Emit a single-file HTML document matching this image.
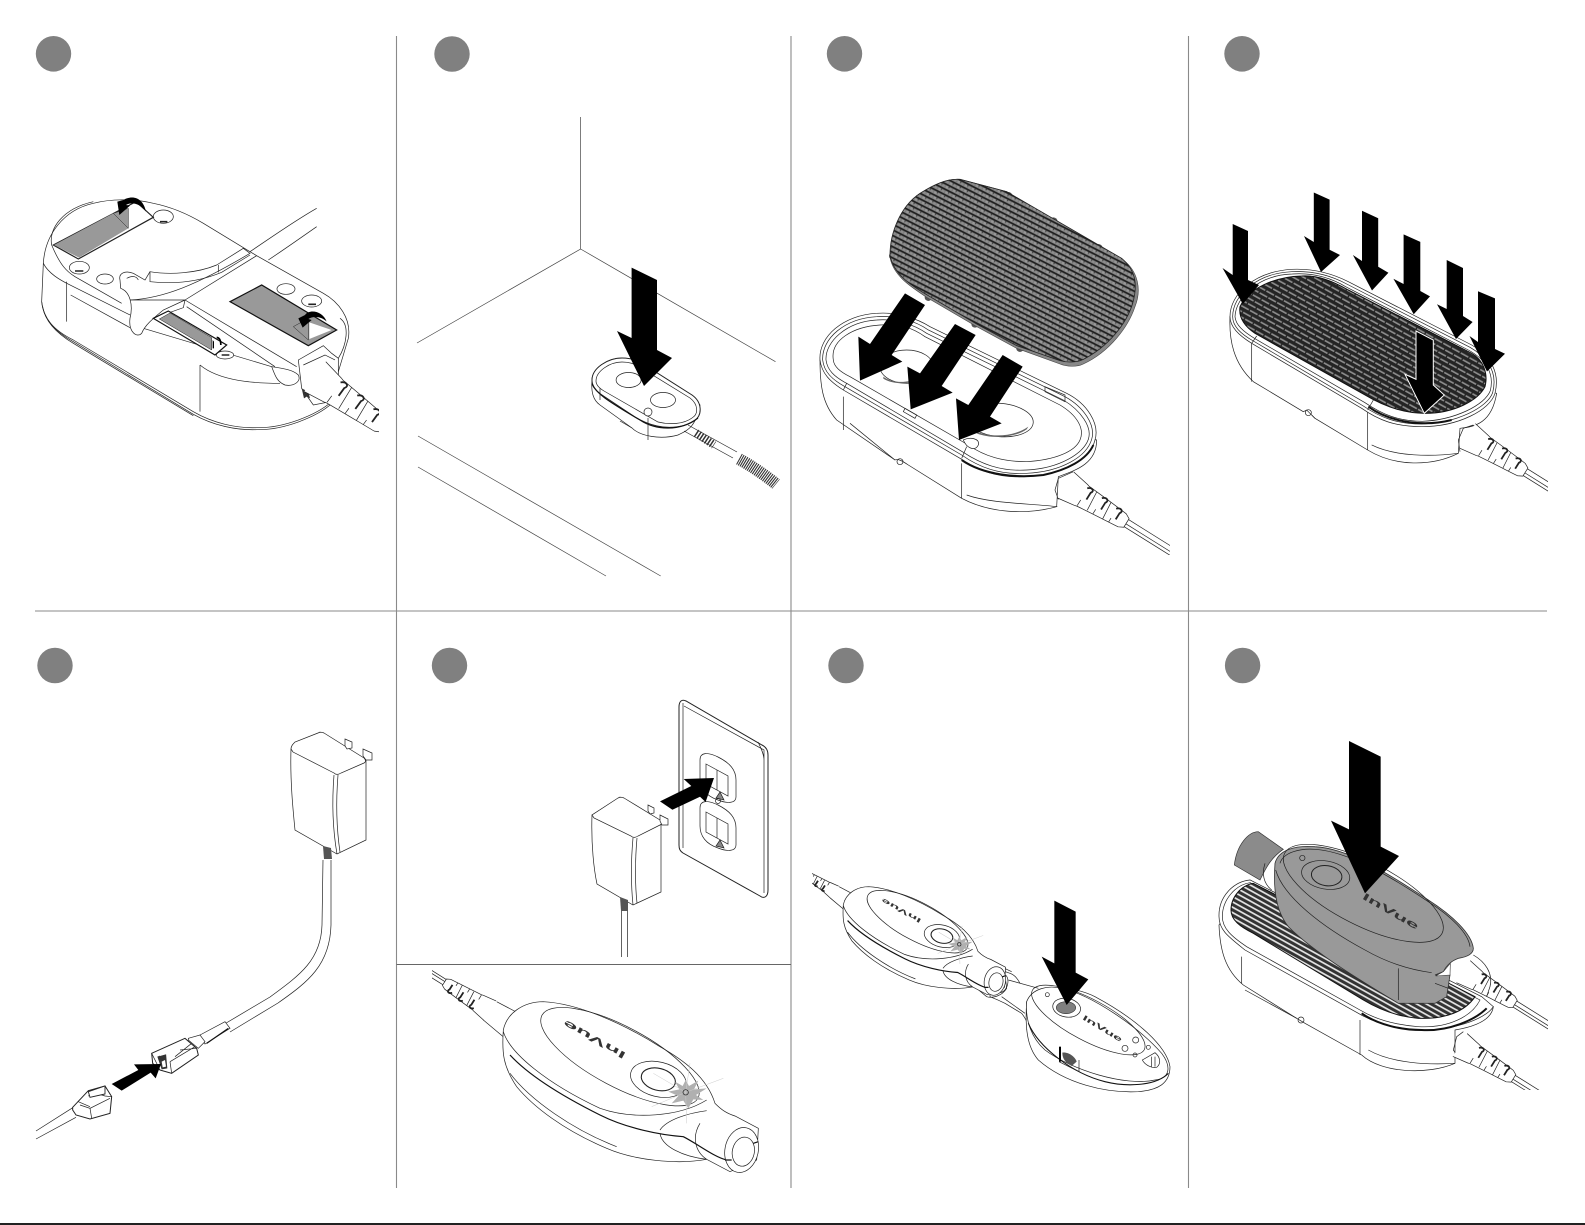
<!DOCTYPE html>
<html><head><meta charset="utf-8"><title>InVue installation steps</title>
<style>
html,body{margin:0;padding:0;background:#fff}
svg{display:block}
svg *{vector-effect:non-scaling-stroke}
.l{fill:none;stroke:#222;stroke-width:.7}
.w{fill:#fff;stroke:#222;stroke-width:.7}
.k{fill:#000;stroke:none}
.d{fill:none;stroke:#111;stroke-width:1.2}
text{font-family:"Liberation Sans",sans-serif;font-weight:bold;fill:#333}
</style></head><body>
<svg xmlns="http://www.w3.org/2000/svg" width="1585" height="1225" viewBox="0 0 1585 1225">
<defs>
<pattern id="carbon" width="24" height="30" patternUnits="userSpaceOnUse" patternTransform="rotate(27)">
<rect width="24" height="30" fill="#7c7c7c"/>
<rect y="0" width="24" height="5" fill="#1f1f1f"/><rect x="2" y="6" width="8" height="7" fill="#999"/><rect x="14" y="7" width="8" height="6" fill="#8e8e8e"/><rect x="10" y="5" width="3" height="4" fill="#333"/>
<rect y="15" width="24" height="5" fill="#1f1f1f"/><rect x="8" y="21" width="8" height="7" fill="#999"/><rect x="20" y="22" width="4" height="6" fill="#8e8e8e"/><rect x="0" y="22" width="4" height="6" fill="#8e8e8e"/><rect x="16" y="20" width="3" height="4" fill="#333"/>
</pattern>
<pattern id="stripe" width="30" height="30" patternUnits="userSpaceOnUse" patternTransform="rotate(29)">
<rect width="30" height="30" fill="#242424"/><rect y="4" width="26" height="5" fill="#8c8c8c"/><rect x="15" y="19" width="15" height="5" fill="#8c8c8c"/><rect x="0" y="19" width="11" height="5" fill="#8c8c8c"/>
</pattern>
<pattern id="stripe8" width="40" height="14" patternUnits="userSpaceOnUse" patternTransform="rotate(29)">
<rect width="40" height="14" fill="#333"/><rect y="3" width="40" height="5" fill="#e8e8e8"/>
</pattern>
<g id="rel">
<path class="w" d="M0,-46 L55,-36 L60,-34 L200,-23 L215,-15 L215,15 L200,23 L60,36 L55,38 L0,46 Z" style="stroke:none"/>
<path class="l" d="M0,-46 L55,-36 L62,-34 C120,-30 170,-26 200,-23 L215,-15 L215,15 L200,23 C170,26 120,30 62,36 L55,38 L0,46"/>
<path d="M60,-26 C72,-38 84,-30 76,-20 L76,4 M113,-24 C125,-36 137,-28 129,-18 L129,6 M166,-20 C178,-32 190,-24 182,-14 L182,8" fill="none" stroke="#222" stroke-width="1.8"/>
<path class="l" d="M62,14 L62,34 M115,14 L115,30 M168,12 L168,26 M90,-32 L95,30 M143,-28 L148,28"/>
<path class="l" d="M215,-12 L420,-12 M215,13 L420,13 M215,3 L420,3"/>
</g>
<g id="dev">
<use href="#rel" transform="translate(210,152) rotate(212) scale(.75)"/>
<path class="l" d="M230,125 L300,162 M190,180 L252,232"/>
<path class="w" d="M250,210 C260,160 310,125 370,125 C470,130 600,185 720,260 C790,300 860,350 885,430 C905,450 920,460 945,468 L1015,505 L1010,600 L930,635 L860,598 C770,615 640,600 560,565 C430,510 340,440 290,380 C250,320 245,280 250,210 Z"/>
<ellipse class="l" cx="600" cy="290" rx="265" ry="90" transform="rotate(28 600 290)"/>
<path class="d" d="M270,285 C330,350 430,410 540,465 C620,505 720,525 790,530 C830,550 880,590 920,600"/>
<path class="l" d="M720,510 C740,480 800,460 860,452 M720,520 C725,560 790,590 860,598 M840,490 C815,530 825,575 860,598 M270,340 C330,420 460,510 590,560"/>
<path class="l" d="M250,215 C270,280 380,370 540,445 C640,480 780,470 860,420"/>
<ellipse class="w" cx="965" cy="570" rx="50" ry="68" transform="rotate(12 965 570)"/>
<ellipse class="l" cx="970" cy="575" rx="33" ry="44" transform="rotate(12 970 575)"/>
<path class="d" d="M915,600 L935,600 M1000,550 L1015,545"/>
<ellipse class="l" cx="715" cy="358" rx="85" ry="52" transform="rotate(14 715 358)"/>
<ellipse class="w" cx="715" cy="358" rx="52" ry="33" transform="rotate(14 715 358)" style="stroke-width:1.1"/>
<path fill="#b0b0b0" d="M797,360 L807,378 L835,362 L822,388 L860,385 L828,405 L850,420 L820,418 L805,445 L790,422 L755,430 L775,408 L745,395 L778,388 L765,365 L788,378 Z"/>
<path stroke="#ccc" stroke-width=".5" fill="none" d="M797,397 L700,340 M797,397 L910,355 M797,397 L810,310 M797,397 L695,440 M797,397 L800,490"/>
<circle class="l" cx="797" cy="397" r="8"/>
<text x="620" y="280" font-size="30" transform="rotate(209 620 280)" textLength="210" lengthAdjust="spacingAndGlyphs">InVue</text>
</g>
<clipPath id="cl1"><rect x="30" y="180" width="349" height="262"/></clipPath>
<clipPath id="cl3"><rect x="810" y="170" width="360" height="385"/></clipPath>
<clipPath id="cl4"><rect x="1215" y="260" width="333" height="240"/></clipPath>
<clipPath id="cl8"><rect x="1215" y="730" width="333" height="360"/></clipPath>
<clipPath id="cl7"><rect x="812" y="860" width="375" height="240"/></clipPath>
<clipPath id="cl6"><rect x="432" y="965" width="340" height="215"/></clipPath>
</defs>
<rect width="1585" height="1225" fill="#fff"/>

<!-- dividers -->
<g stroke="#8a8a8a" stroke-width="1.1" fill="none">
<path d="M396.5,36 V1188 M791,36 V1188 M1188.5,36 V1188 M35,611 H1547"/>
</g>
<path d="M396.5,964.5 H791" stroke="#666" stroke-width=".9"/>
<rect y="1223" width="1585" height="2" fill="#222"/>

<!-- step circles -->
<g fill="#808080">
<ellipse cx="53.5" cy="53.8" rx="17.7" ry="17.8"/><ellipse cx="452" cy="54" rx="17.7" ry="17.8"/>
<ellipse cx="844.5" cy="53.8" rx="17.7" ry="17.8"/><ellipse cx="1242" cy="53.8" rx="17.7" ry="17.8"/>
<ellipse cx="55" cy="665.5" rx="17.7" ry="17.8"/><ellipse cx="449.5" cy="665.5" rx="17.7" ry="17.8"/>
<ellipse cx="846" cy="665.5" rx="17.7" ry="17.8"/><ellipse cx="1242.6" cy="665.5" rx="17.7" ry="17.8"/>
</g>

<!-- PANEL 1 -->
<g clip-path="url(#cl1)"><g transform="translate(30,185) scale(.33333)">
<path class="l" d="M660,200 C720,160 790,110 860,70 M715,225 C760,195 810,160 860,125"/>
<path class="w" d="M40,235 C45,150 100,75 190,55 C240,42 310,40 370,55 C420,65 470,85 520,115 L660,200 L680,212 L880,325 C925,350 965,400 955,460 L925,560 L905,650 C860,690 760,730 680,728 C620,730 550,715 490,680 L130,465 C70,435 40,400 35,350 Z"/>
<path class="l" d="M35,350 C40,400 75,440 130,470 L490,688 C550,722 620,736 680,734 C760,736 860,696 905,656"/>
<path class="l" d="M38,365 C45,410 80,445 130,475 L490,692"/>
<path class="l" d="M65,180 C55,130 100,70 190,50 M40,235 C55,265 90,285 120,300 L300,390 M122,330 L300,428 M340,430 L725,545 M110,290 V410 M510,540 V680 M510,540 C570,590 680,595 750,595 M930,400 C960,420 950,480 925,520"/>
<path class="l" d="M65,180 C90,240 110,260 135,275 L275,355"/>
<path class="w" d="M300,345 C400,340 500,300 660,205 L640,190 L560,240 C500,265 420,270 360,260 L345,285 L310,265 C285,255 265,265 270,285 L272,310 C300,320 310,360 300,400 C295,440 320,460 335,445 C345,420 370,400 400,375 L465,345 Z"/>
<path class="l" d="M360,260 V290 C450,300 520,285 575,262 L660,210 M565,240 V262 M290,280 C310,270 320,275 325,285"/>
<path class="l" d="M465,345 L680,212 M465,345 L800,545 M470,365 L735,545 M465,345 L460,368 L370,400"/>
<path class="w" d="M725,545 C760,550 790,555 805,570 C815,590 790,605 765,600 C740,590 735,570 725,545 Z"/>
<!-- holes -->
<ellipse class="w" cx="400" cy="95" rx="30" ry="20"/><ellipse class="w" cx="148" cy="248" rx="30" ry="19"/>
<ellipse class="w" cx="225" cy="282" rx="25" ry="15"/><ellipse class="w" cx="768" cy="312" rx="27" ry="16"/>
<ellipse class="w" cx="845" cy="348" rx="30" ry="18"/><ellipse class="w" cx="585" cy="510" rx="26" ry="12"/>
<path d="M390,110 H412 M135,258 H160 M835,358 H858 M575,510 H598" stroke="#222" stroke-width="1.6"/>
<!-- tape 1 -->
<path class="w" d="M70,180 L318,50 L370,97 L145,222 Z" style="stroke-width:1.2"/>
<path fill="#999" d="M72,180 L250,85 L295,130 L147,218 Z"/>
<path fill="#999" stroke="#222" stroke-width=".5" d="M250,85 L295,70 L295,130 Z"/>
<path class="k" d="M348,80 C340,40 310,28 280,45 L262,50 L268,90 L300,62 L288,60 C305,50 330,55 348,80 Z"/>
<!-- tape 2 -->
<path fill="#999" stroke="#111" stroke-width="1.2" d="M600,350 L695,300 L920,435 L835,482 Z"/>
<path fill="#fff" d="M838,462 L838,412 L905,435 Z"/>
<path fill="#999" stroke="#222" stroke-width=".5" d="M790,425 L835,400 L835,465 Z"/>
<path class="k" d="M890,410 C880,380 840,370 825,390 L805,400 L818,428 L845,405 L835,402 C850,392 875,395 890,410 Z"/>
<!-- tape 3 -->
<path fill="#fff" stroke="#111" stroke-width="1.2" d="M370,400 L415,378 L590,480 L555,510 Z"/>
<path fill="#999" stroke="#222" stroke-width=".5" d="M388,402 L420,384 L545,458 L545,495 Z"/>
<path class="k" d="M548,465 L552,470 L552,490 L548,490 Z M560,455 C570,455 575,465 575,480 L570,480 C570,465 565,460 560,460 Z"/>
<!-- socket + cord -->
<path class="w" d="M805,525 L880,482 L905,505 L925,520 L925,600 L900,650 L850,660 L815,610 L805,525 Z"/>
<path fill="#333" d="M815,610 L835,620 L840,640 L830,635 L822,640 Z"/>
<path class="l" d="M820,540 L885,510 L915,525"/>
<use href="#rel" transform="translate(855,575) rotate(36) scale(1.2)"/>
</g></g>

<!-- PANEL 2 -->
<g style="fill:none;stroke:#444;stroke-width:.7">
<path d="M580.6,117 V249 L417,343 M580.6,249 L775.5,361.7 M418,436 L660.7,576 M418,467 L606,576"/>
</g>
<path class="w" d="M592,380 C591,392 593,400 600,405 L632,428 C640,436 660,440 678,435 C688,430 695,428 700,405 L692,395 L622,358 C608,358 592,368 592,380 Z"/>
<path class="w" d="M592,380 C592,368 608,358 622,358 C630,358 636,360 640,362 L692,395 C702,402 703,415 694,421 C685,427 670,429 657,426 C648,424 640,420 635,417 L602,395 C596,391 592,386 592,380 Z" style="stroke-width:1"/>
<path class="l" d="M596,381 C596,371 610,362 622,362 C630,362 634,364 638,366 L690,398 C698,404 699,414 692,418 C684,424 670,425 658,422 L604,391 C599,388 596,385 596,381 Z"/>
<ellipse class="w" cx="628.6" cy="380" rx="12.5" ry="7.5"/><ellipse class="w" cx="663" cy="400" rx="12.5" ry="7.5"/>
<circle class="w" cx="648" cy="412" r="4"/>
<path class="d" d="M592,384 C596,393 606,400 640,420 C655,430 680,432 698,418"/>
<path class="l" d="M600,400 V388 M648,418 V440 M620,421 L632,428"/>
<path class="l" d="M688,425 L737,452 M684,431 L733,458"/>
<path d="M696,433 L714,445" stroke="#333" stroke-width="8" stroke-dasharray="1.5,1.5"/>
<path d="M739,459 C750,465 765,475 776,484" fill="none" stroke="#333" stroke-width="12" stroke-dasharray="1.1,1"/>
<path class="k" d="M631.6,267.6 L657,280 V350 L672,358 L644,386 L617,331 L631.6,338 Z"/>

<!-- PANEL 3 -->
<g clip-path="url(#cl3)"><g transform="translate(810,170) scale(.33333)">
<path class="w" d="M30,570 C30,640 35,700 80,750 L255,870 C265,865 280,875 295,885 L455,985 C540,1030 650,1035 740,1010 L745,920 C800,900 860,880 860,810 Z"/>
<path class="l" d="M100,680 V780 M455,880 V985 M120,760 L255,870 M742,1010 C650,1000 540,1000 470,975"/>
<circle class="l" cx="270" cy="875" r="9"/>
<path class="w" d="M30,570 C25,500 100,435 200,430 C260,425 320,445 360,470 L770,670 C830,700 870,760 855,810 C840,870 760,915 650,920 C560,925 500,900 450,865 L100,660 C60,635 35,610 30,570 Z"/>
<path class="l" d="M38,570 C35,505 105,445 200,440 C260,435 320,455 355,480 L765,680 C820,710 858,765 845,808 C830,860 755,905 650,910 C565,915 505,890 455,855 L105,650 C65,628 42,605 38,570 Z"/>
<path class="l" d="M48,570 C45,515 110,455 200,450 C260,445 315,465 350,490 L760,690 C810,720 848,770 835,808 C820,850 750,895 650,900 C570,905 510,880 460,847 L110,640 C72,620 52,600 48,570 Z"/>
<path class="l" d="M70,570 C60,510 130,470 210,465 C270,460 310,475 345,500 L750,705 C800,735 825,775 810,810 C795,845 735,870 650,875 C580,875 525,860 475,825 L120,620 C90,605 72,590 70,570 Z"/>
<path d="M455,870 C520,915 620,925 700,915 C770,900 830,870 850,825" fill="none" stroke="#111" stroke-width="2"/>
<path class="l" d="M100,660 L110,640 M455,865 L470,830 M285,715 L320,735 L315,745 L280,725 Z M705,650 L765,675 V695 L705,665 Z"/>
<ellipse class="w" cx="570" cy="750" rx="100" ry="50" transform="rotate(5 570 750)"/>
<path fill="#666" d="M500,785 C540,802 610,802 655,770 L650,778 C610,806 540,806 500,790 Z"/>
<ellipse class="w" cx="290" cy="590" rx="80" ry="50"/>
<path fill="#666" d="M220,620 C250,645 320,640 360,605 L360,612 C320,646 250,646 220,626 Z"/>
<path class="w" d="M460,810 C480,800 510,805 505,825 C495,845 470,835 460,810 Z"/>
<g fill="#555"><circle cx="595" cy="78" r="12"/><circle cx="730" cy="155" r="13"/><circle cx="865" cy="235" r="13"/><circle cx="970" cy="360" r="12"/><ellipse cx="785" cy="578" rx="20" ry="10"/><circle cx="630" cy="535" r="11"/><circle cx="495" cy="462" r="11"/><circle cx="355" cy="382" r="11"/><circle cx="247" cy="258" r="10"/></g>
<path fill="#888" stroke="#444" stroke-width=".6" d="M240,262 C240,190 270,110 330,70 C370,45 410,25 450,28 L590,65 L940,270 C985,305 995,360 975,410 C955,470 900,545 820,582 C800,592 770,590 750,582 L620,535 L500,470 L350,382 C310,355 250,320 240,262 Z"/>
<path fill="url(#carbon)" stroke="#222" stroke-width=".8" d="M240,255 C240,190 270,110 330,70 C370,45 410,25 450,28 L590,65 L935,265 C975,300 985,340 968,400 C950,460 895,530 820,568 C800,578 770,578 750,572 L620,527 L500,462 L350,374 C310,350 250,315 240,255 Z"/>
<g class="k">
<polygon points="285,370 345,405 245,555 277,575 150,632 145,500 180,522"/>
<polygon points="435,462 497,495 395,648 428,668 302,718 292,590 330,610"/>
<polygon points="578,555 638,590 540,740 575,760 447,810 438,685 475,705"/>
</g>
<path class="l" d="M790,905 L745,925 L735,960 L745,988"/>
<use href="#rel" transform="translate(767,945) rotate(32)"/>
</g></g>

<!-- PANEL 4 -->
<g clip-path="url(#cl4)"><g transform="translate(1215,260) scale(.33333)">
<path class="w" d="M45,170 C42,240 55,310 115,365 L265,455 L275,450 L300,475 L458,570 C540,620 650,620 730,580 L735,505 C780,500 830,490 845,400 Z"/>
<path class="l" d="M110,250 V365 M458,450 V570 M730,580 C650,590 540,590 470,555 M300,475 L290,465"/>
<circle class="l" cx="280" cy="458" r="9"/>
<path class="w" d="M45,170 C45,100 120,35 230,28 C290,25 350,40 400,65 L770,255 C830,290 855,340 840,400 C825,450 730,500 620,500 C540,500 490,480 440,445 L110,250 C70,225 45,200 45,170 Z"/>
<path class="l" d="M53,170 C53,105 125,40 230,35 C290,32 345,45 395,72 L765,262 C822,295 848,340 833,398 C818,442 725,490 620,492 C545,492 495,472 445,438 L115,243 C75,220 53,198 53,170 Z"/>
<path class="l" d="M60,170 C62,112 130,45 232,42 C290,38 345,52 392,80 L760,270 C815,300 838,342 826,392 C810,435 720,480 622,484 C550,484 500,462 450,428 L120,236 C85,215 62,195 60,170 Z"/>
<path fill="url(#stripe)" stroke="#111" stroke-width="1" d="M75,140 C100,85 180,50 260,48 C310,45 355,65 400,90 L770,280 C805,300 820,340 810,380 C790,420 720,460 630,460 C560,460 500,435 450,405 L120,220 C90,200 70,175 75,140 Z"/>
<path d="M460,440 C530,490 630,500 710,480" fill="none" stroke="#111" stroke-width="2"/>
<path class="l" d="M110,250 L125,228 M458,450 L475,420"/>
<path class="l" d="M775,495 L745,505 L730,540 L735,575"/>
<use href="#rel" transform="translate(758,528) rotate(32) scale(.95)"/>
</g></g>
<g class="k">
<polygon points="1232.7,224 1248,231 1248,280 1259,285 1242.8,304 1222.5,268 1232.7,275"/>
<polygon points="1313.8,192.5 1329.6,199.6 1329.6,249.8 1340,255 1321,272 1304,236 1313.8,242"/>
<polygon points="1362,210.7 1378.2,218.2 1378.2,266.8 1388.4,272.7 1372,290.5 1352.9,255 1362,261"/>
<polygon points="1403.6,234.4 1420.3,241.9 1420.3,291 1430,296.4 1413.7,314.2 1393.4,278.7 1403.6,284"/>
<polygon points="1446.7,260 1463,268 1463,316 1472.6,322 1456,339 1437,304.3 1446.7,309"/>
<polygon points="1478,291.3 1495,298.4 1495,349 1505,353.8 1487,371.5 1469.5,336 1478,342"/>
</g>
<polygon points="1416,331 1433.3,340 1433.3,385 1444.3,395 1424.3,413.3 1405,374.3 1416,379.3" fill="#000" stroke="#fff" stroke-width="1"/>

<!-- PANEL 5 -->
<path class="w" d="M291,749 C290,780 293,810 295,830 L337,854 L366,840 L366,760 L320,732 Z"/>
<path class="w" d="M291,749 C291,746 293,744 295,742 L318,733 C320,732 322,732 324,733 L364,758 C366,760 366,762 364,763 L341,773 C338,775 336,775 334,773 L293,752 Z"/>
<path class="l" d="M334,775 C332,800 332,825 337,854 M338,775 C336,800 336,825 340,852"/>
<path class="w" d="M345,739 L352,742 L352,748 L347,749 L345,746 Z M363,749 L372,753 L372,760 L366,760 L363,756 Z"/>
<path fill="#555" d="M323,846 L331,848 L332,859 L324,859 Z"/>
<path class="l" d="M323,860 L322,925 C321,960 300,975 270,997 L224.5,1024 M331,860 L331,925 C330,965 308,982 278,1003 L230,1032"/>
<g transform="translate(60,1020) scale(.33333)">
<path class="w" d="M420,45 L495,5 L510,25 L435,72 Z"/>
<path class="d" d="M440,70 L505,25"/>
<path class="w" d="M385,55 L420,45 L435,65 L415,85 L385,60 Z"/>
<path class="w" d="M275,100 L375,55 L410,85 L415,105 L335,160 L300,150 L278,130 Z" style="stroke-width:1"/>
<path class="l" d="M275,100 L300,150 M330,125 L405,80 M335,160 L330,125 M360,90 L410,85 M345,110 L395,70"/>
<path fill="#333" d="M292,110 L318,100 L322,145 L305,148 Z"/>
<path fill="#fff" d="M305,125 L315,120 L318,140 L308,142 Z M298,98 L325,90 L328,100 L300,108 Z"/>
<path class="l" d="M-72,333 L40,262 M-72,357 L48,292"/>
<path class="w" d="M38,262 L85,212 L135,198 L155,230 L150,280 L90,297 L48,285 L38,270 Z" style="stroke-width:1"/>
<path class="l" d="M85,212 L135,228 L155,230 M60,255 L90,265 L150,235 M90,265 L95,295 M85,228 L125,210 M55,245 L90,260"/>
<path d="M85,215 L135,198 L135,222 L90,232 Z" fill="#fff" stroke="#222" stroke-width=".9"/>
<polygon class="k" points="155,192 235,150 222,133 303,132 287,175 272,158 185,212"/>
</g>

<!-- PANEL 6 upper -->
<path class="w" d="M679,707 C679,701 682,699 686,701 L762,745 C766,747 768,750 768,755 L768,890 C768,897 764,899 760,896 L683,853 C680,851 679,849 679,845 Z" style="stroke-width:1"/>
<path class="l" d="M683,703 V848 M684,706 L764,750 V893 M758,742 C762,750 764,755 764,760"/>
<path class="w" d="M700,760 C700,752 708,752 718,757 C730,763 736,770 736,780 L736,797 C736,803 728,804 718,800 C706,796 700,788 700,778 Z"/>
<path class="w" d="M700,808 C700,800 708,800 718,805 C730,811 736,818 736,828 L736,845 C736,851 728,852 718,848 C706,844 700,836 700,826 Z"/>
<path class="l" d="M706,764 L728,776 V796 L706,784 Z M706,812 L728,824 V844 L706,832 Z"/>
<path d="M717,770 V790 M717,818 V838 M720,792 L716,798 L724,800 Z M720,840 L716,846 L724,848 Z" fill="#888" stroke="#222" stroke-width=".7"/>
<circle class="l" cx="718" cy="801" r="2.5"/>
<path class="w" d="M592,815 C591,845 594,870 597,884 L633,905 L661,892 L661,822 L620,797 Z"/>
<path class="w" d="M592,815 L618,798 C620,797 622,797 624,798 L660,820 C662,822 662,824 660,825 L638,836 C635,838 633,838 631,836 L594,818 Z"/>
<path class="l" d="M633,838 C631,860 631,885 633,905 M637,838 C635,860 635,885 637,903"/>
<path class="w" d="M648,805 L654,808 L654,813 L650,814 L648,811 Z M660,815 L668,819 L668,825 L662,825 L660,821 Z"/>
<path fill="#555" d="M620,897 L628,900 L628,911 L621,911 Z"/>
<path class="l" d="M621.4,911 V957 M627.5,911 V957"/>
<polygon class="k" points="660,801.4 672.4,809.7 700,796.7 705.6,802 714,778 683.7,779 691.3,786"/>

<!-- PANEL 6 lower -->
<g clip-path="url(#cl6)"><g transform="translate(420,960) scale(.33333)">
<use href="#dev"/>
</g></g>

<!-- PANEL 7 -->
<g clip-path="url(#cl7)"><g transform="translate(805,860) scale(.33333)">
<path class="l" d="M500,300 L615,340 C630,345 640,360 645,370 M525,290 L620,335"/>
<path class="w" d="M500,310 C490,340 495,370 515,385 L545,410 C560,415 590,410 605,385 L600,345 L520,300 Z"/>
<ellipse class="l" cx="590" cy="370" rx="18" ry="28" transform="rotate(15 590 370)"/>
<path class="l" d="M610,360 L700,385 M590,410 L660,460 M555,395 L555,410 C580,420 590,425 600,430 L650,460 C665,480 670,490 665,510"/>
<g transform="translate(-44,.5) scale(.636)"><use href="#dev"/></g>
<path class="w" d="M665,425 C660,500 665,560 700,600 C780,670 900,700 1000,695 C1060,690 1095,670 1095,620 C1085,560 1000,480 870,410 C800,375 690,370 665,425 Z"/>
<path class="w" d="M665,425 C680,385 730,375 770,385 C860,405 1000,500 1070,580 C1100,620 1095,655 1050,660 C960,680 800,630 720,570 C680,535 660,480 665,425 Z"/>
<path d="M670,490 C700,560 800,640 900,665 C960,680 1050,680 1090,640" fill="none" stroke="#111" stroke-width="1.1"/>
<ellipse class="l" cx="850" cy="480" rx="190" ry="62" transform="rotate(28 850 480)"/>
<ellipse class="w" cx="785" cy="443" rx="42" ry="28" transform="rotate(10 785 443)"/>
<ellipse fill="#808080" cx="783" cy="443" rx="29" ry="18" stroke="#333" stroke-width=".6"/>
<circle class="l" cx="727" cy="404" r="6"/><circle class="l" cx="1030" cy="562" r="6"/><circle class="l" cx="990" cy="585" r="6"/>
<circle class="l" cx="992" cy="540" r="9"/><circle class="l" cx="960" cy="565" r="9"/>
<path class="l" d="M1012,600 L1050,578 C1065,590 1070,610 1055,622 C1040,625 1020,615 1012,600 Z M1040,590 V620 M1050,590 V620"/>
<text x="831" y="477" font-size="22" transform="rotate(31 831 477)" textLength="135" lengthAdjust="spacingAndGlyphs">InVue</text>
<path class="l" d="M762,605 L822,635 V600"/>
<path d="M765,560 V605" stroke="#000" stroke-width="2"/>
<path fill="#555" d="M772,578 C790,575 810,590 815,605 L800,618 C785,610 772,600 772,578 Z"/>
<polygon class="k" points="748,122 812,155 812,338 850,358 785,435 710,290 748,310"/>
</g></g>

<!-- PANEL 8 -->
<g clip-path="url(#cl8)"><g transform="translate(1215,730) scale(.33333)">
<path class="w" d="M12,585 C15,660 30,720 85,765 L245,865 L270,880 L440,975 C500,1030 640,1035 720,1000 L720,900 C780,890 830,870 835,830 L105,450 Z"/>
<path class="l" d="M80,680 V760 M435,870 V975 M720,1000 C640,1005 530,1000 460,960 M90,780 L245,865"/>
<circle class="l" cx="258" cy="870" r="9"/>
<path class="l" d="M745,905 L725,920 L715,960 L735,988"/>
<use href="#rel" transform="translate(735,945) rotate(32) scale(.88)"/>
<path class="w" d="M12,560 C10,500 55,455 105,450 L800,800 L835,830 C810,870 700,905 610,900 C540,895 480,880 430,850 L90,660 C40,620 12,600 12,560 Z"/>
<path class="l" d="M22,560 C22,510 60,465 105,458 L795,810 C770,860 700,895 610,890 C545,885 485,870 435,840 L95,650 C50,620 22,595 22,560 Z"/>
<path fill="url(#stripe8)" stroke="#111" stroke-width="1" d="M48,540 C48,500 80,465 115,460 L780,800 C750,845 690,868 610,865 C550,860 495,840 445,810 L115,610 C75,590 48,570 48,540 Z"/>
<path d="M440,850 C490,885 560,900 620,900 C700,905 780,870 815,835" fill="none" stroke="#111" stroke-width="2"/>
<use href="#rel" transform="translate(745,725) rotate(32) scale(.85)"/>
<path class="l" d="M775,675 C810,695 835,730 825,770 L815,800"/>
<path fill="#8b8b8b" stroke="#333" stroke-width=".7" d="M130,305 C100,305 65,345 58,405 L135,450 C150,420 165,385 205,358 Z"/>
<path fill="#999" stroke="#333" stroke-width=".8" d="M180,400 C190,360 240,345 300,350 C400,355 520,430 640,510 C710,555 770,610 775,655 C775,670 760,680 730,685 C710,692 695,705 685,725 L660,735 L705,735 L695,800 L660,820 L550,820 C450,760 300,670 220,590 C180,540 175,470 180,400 Z"/>
<path fill="#fff" stroke="#333" stroke-width=".6" d="M685,725 L706,700 L705,735 L662,738 Z"/>
<path class="l" d="M195,400 C205,365 260,355 300,358 C400,365 520,435 640,515 C710,560 760,610 765,650"/>
<ellipse class="l" cx="445" cy="490" rx="265" ry="95" transform="rotate(27 445 490)"/>
<ellipse class="l" cx="332" cy="435" rx="73" ry="42" transform="rotate(10 332 435)"/>
<ellipse fill="#999" stroke="#222" stroke-width="1" cx="335" cy="437" rx="46" ry="30" transform="rotate(8 335 437)"/>
<circle class="l" cx="262" cy="384" r="8"/>
<path class="l" d="M182,420 C205,500 320,590 450,660 C520,700 590,720 650,728 M150,400 C140,430 145,460 170,480 M550,715 V810 M660,760 L700,775"/>
<text x="440" y="505" font-size="30" transform="rotate(30 440 505)" textLength="190" lengthAdjust="spacingAndGlyphs">InVue</text>
<polygon class="k" points="402,33 497,80 497,350 552,378 450,490 348,272 402,298" stroke="#fff" stroke-width=".8"/>
</g></g>
</svg>
</body></html>
